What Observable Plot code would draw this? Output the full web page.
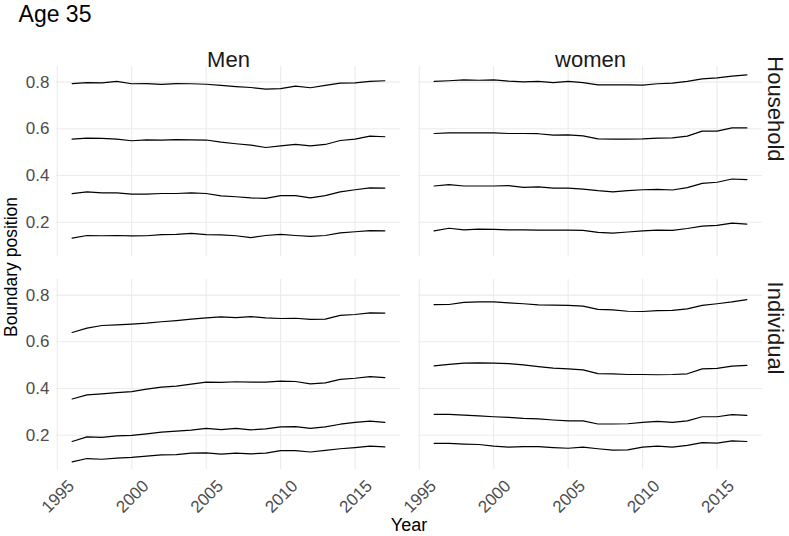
<!DOCTYPE html>
<html>
<head>
<meta charset="utf-8">
<script src="https://cdn.jsdelivr.net/npm/d3@7"></script>
<script src="https://cdn.jsdelivr.net/npm/@observablehq/plot@0.6"></script>
<style>
  html, body { margin: 0; padding: 0; background: #ffffff; }
  #chart { width: 789px; height: 536px; }
</style>
</head>
<body>
<div id="chart"></div>
<script>
const years = [1996, 1997, 1998, 1999, 2000, 2001, 2002, 2003, 2004, 2005, 2006,
               2007, 2008, 2009, 2010, 2011, 2012, 2013, 2014, 2015, 2016, 2017];
const sexes = ["Men", "women"];
const types = ["Household", "Individual"];
const xTicks = [1995, 2000, 2005, 2010, 2015];
const yTicks = [0.2, 0.4, 0.6, 0.8];

// Men, Household: four boundaries
const menHousehold = [
  [0.794, 0.798, 0.797, 0.803, 0.793, 0.794, 0.790, 0.794, 0.793, 0.791, 0.786, 0.781, 0.777, 0.770, 0.772, 0.783, 0.776, 0.786, 0.796, 0.797, 0.803, 0.806],
  [0.556, 0.560, 0.559, 0.556, 0.549, 0.553, 0.552, 0.554, 0.553, 0.552, 0.543, 0.536, 0.530, 0.520, 0.527, 0.533, 0.527, 0.533, 0.550, 0.556, 0.569, 0.566],
  [0.322, 0.330, 0.326, 0.326, 0.320, 0.320, 0.323, 0.323, 0.326, 0.323, 0.313, 0.309, 0.304, 0.302, 0.314, 0.314, 0.304, 0.314, 0.330, 0.339, 0.347, 0.346],
  [0.132, 0.143, 0.142, 0.143, 0.141, 0.142, 0.147, 0.148, 0.152, 0.147, 0.146, 0.142, 0.134, 0.143, 0.148, 0.143, 0.139, 0.143, 0.154, 0.159, 0.164, 0.163]
];
// women, Household
const womenHousehold = [
  [0.803, 0.806, 0.810, 0.808, 0.810, 0.804, 0.801, 0.803, 0.798, 0.803, 0.798, 0.788, 0.788, 0.788, 0.787, 0.793, 0.796, 0.803, 0.814, 0.818, 0.826, 0.831],
  [0.580, 0.583, 0.583, 0.583, 0.583, 0.580, 0.580, 0.579, 0.573, 0.574, 0.570, 0.557, 0.556, 0.556, 0.557, 0.560, 0.561, 0.569, 0.590, 0.590, 0.604, 0.604],
  [0.355, 0.361, 0.355, 0.355, 0.355, 0.357, 0.349, 0.351, 0.346, 0.346, 0.342, 0.335, 0.330, 0.335, 0.339, 0.341, 0.338, 0.348, 0.366, 0.371, 0.385, 0.382],
  [0.163, 0.174, 0.167, 0.170, 0.169, 0.167, 0.167, 0.166, 0.166, 0.166, 0.165, 0.156, 0.153, 0.158, 0.163, 0.166, 0.165, 0.173, 0.183, 0.186, 0.196, 0.192]
];
// Men, Individual
const menIndividual = [
  [0.640, 0.659, 0.670, 0.673, 0.676, 0.680, 0.686, 0.691, 0.697, 0.703, 0.707, 0.704, 0.708, 0.703, 0.700, 0.701, 0.696, 0.697, 0.713, 0.717, 0.724, 0.723],
  [0.355, 0.373, 0.377, 0.382, 0.387, 0.397, 0.406, 0.410, 0.419, 0.427, 0.426, 0.429, 0.427, 0.427, 0.432, 0.430, 0.420, 0.424, 0.439, 0.444, 0.451, 0.447],
  [0.173, 0.193, 0.191, 0.197, 0.199, 0.206, 0.213, 0.217, 0.222, 0.229, 0.224, 0.229, 0.223, 0.227, 0.236, 0.237, 0.229, 0.236, 0.247, 0.255, 0.260, 0.255],
  [0.086, 0.100, 0.097, 0.102, 0.105, 0.110, 0.116, 0.117, 0.123, 0.124, 0.119, 0.123, 0.120, 0.123, 0.134, 0.134, 0.128, 0.135, 0.142, 0.147, 0.153, 0.150]
];
// women, Individual
const womenIndividual = [
  [0.759, 0.760, 0.769, 0.771, 0.771, 0.767, 0.763, 0.758, 0.757, 0.756, 0.753, 0.739, 0.737, 0.731, 0.730, 0.734, 0.735, 0.741, 0.756, 0.763, 0.771, 0.781],
  [0.497, 0.503, 0.509, 0.510, 0.509, 0.507, 0.501, 0.494, 0.487, 0.484, 0.480, 0.464, 0.463, 0.460, 0.460, 0.459, 0.460, 0.463, 0.484, 0.486, 0.496, 0.499],
  [0.289, 0.289, 0.286, 0.283, 0.279, 0.276, 0.272, 0.270, 0.265, 0.261, 0.261, 0.248, 0.248, 0.249, 0.255, 0.259, 0.255, 0.261, 0.279, 0.279, 0.288, 0.285],
  [0.165, 0.165, 0.162, 0.160, 0.153, 0.149, 0.151, 0.151, 0.147, 0.144, 0.149, 0.142, 0.136, 0.137, 0.149, 0.153, 0.149, 0.156, 0.168, 0.166, 0.176, 0.173]
];

const panels = [
  {sex: "Men", type: "Household", series: menHousehold},
  {sex: "women", type: "Household", series: womenHousehold},
  {sex: "Men", type: "Individual", series: menIndividual},
  {sex: "women", type: "Individual", series: womenIndividual}
];
const rows = [];
for (const p of panels) {
  p.series.forEach((vals, k) => {
    vals.forEach((v, i) => rows.push({sex: p.sex, type: p.type, boundary: k, year: years[i], value: v}));
  });
}
const topStrips = sexes.map(s => ({sex: s, type: types[0], label: s}));
const rightStrips = types.map(t => ({sex: sexes[1], type: t, label: t}));

const FONT = "'Liberation Sans', Arial, Helvetica, sans-serif";
const chart = Plot.plot({
  width: 789,
  height: 536,
  marginTop: 66,
  marginBottom: 67,
  marginLeft: 55,
  marginRight: 26,
  style: {fontFamily: FONT, background: "#ffffff", overflow: "visible"},
  x: {domain: [1994.95, 2018.05], label: null},
  y: {domain: [0.053, 0.867], label: null},
  fx: {domain: sexes, padding: 0.049, axis: null, label: null},
  fy: {domain: types, padding: 0.109, axis: null, label: null},
  marks: [
    Plot.gridX({ticks: xTicks, stroke: "#ebebeb", strokeOpacity: 1, strokeWidth: 1.1}),
    Plot.gridY({ticks: yTicks, stroke: "#ebebeb", strokeOpacity: 1, strokeWidth: 1.1}),
    Plot.axisX({ticks: xTicks, tickSize: 0, tickPadding: 9, dx: 9.5, tickRotate: -45,
                textAnchor: "end", lineAnchor: "top", tickFormat: d => String(d),
                fontSize: 17, fill: "#4d4d4d", label: null}),
    Plot.axisY({ticks: yTicks, tickSize: 0, tickPadding: 7, tickFormat: d => d.toFixed(1),
                fontSize: 17, fill: "#4d4d4d", label: null}),
    Plot.line(rows, {x: "year", y: "value", z: "boundary", fx: "sex", fy: "type",
                     stroke: "#000000", strokeWidth: 1.2}),
    Plot.text(topStrips, {fx: "sex", fy: "type", text: "label", frameAnchor: "top",
                          dy: -15, fontSize: 22, fill: "#1a1a1a"}),
    Plot.text(rightStrips, {fx: "sex", fy: "type", text: "label", frameAnchor: "right",
                            rotate: 90, dx: 13, fontSize: 22, fill: "#1a1a1a"})
  ]
});
document.getElementById("chart").appendChild(chart);

const svg = d3.select(chart);
svg.append("text").attr("x", 55).attr("y", 22).attr("font-size", 23).attr("fill", "#000")
  .attr("font-family", FONT).text("Age 35");
svg.append("text").attr("x", 409).attr("y", 531).attr("text-anchor", "middle").attr("font-size", 18)
  .attr("fill", "#000").attr("font-family", FONT).text("Year");
svg.append("text").attr("transform", "translate(17,267) rotate(-90)").attr("text-anchor", "middle")
  .attr("font-size", 17.5).attr("fill", "#000").attr("font-family", FONT).text("Boundary position");
</script>
</body>
</html>
